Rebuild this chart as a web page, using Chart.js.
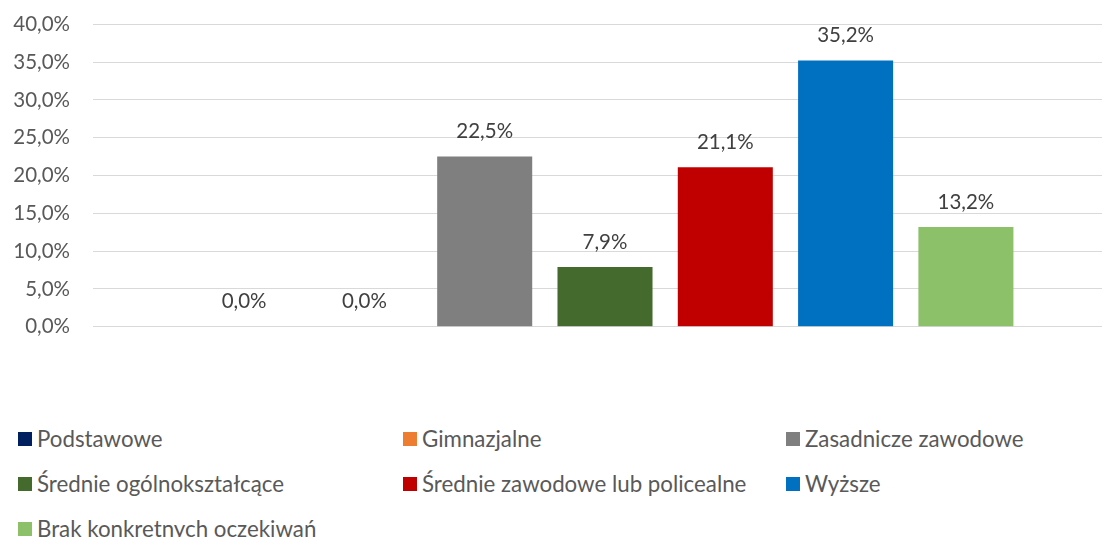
<!DOCTYPE html>
<html>
<head>
<meta charset="utf-8">
<script src="https://cdn.jsdelivr.net/npm/chart.js@4"></script>
<style>
  html, body { margin: 0; padding: 0; background: #fff; overflow: hidden; }
  body { width: 1102px; height: 537px; position: relative; font-family: Lato, "Open Sans", sans-serif; }
  #wrap { position: absolute; left: 0; top: -11px; width: 1120px; height: 373px; }
  #legend { position: absolute; left: 18px; top: 416px; display: grid;
    grid-template-columns: 385px 383px auto; grid-auto-rows: 45px; }
  .item { display: flex; align-items: center; font-size: 22.3px; color: #595959; white-space: nowrap; }
  .box { width: 14px; height: 14px; margin-right: 5px; flex: none; }
</style>
</head>
<body>
<div id="wrap"><canvas id="chart"></canvas></div>
<div id="legend"></div>
<script>
// categories (one series per education level)
const seriesNames = [
  'Podstawowe',
  'Gimnazjalne',
  'Zasadnicze zawodowe',
  'Średnie ogólnokształcące',
  'Średnie zawodowe lub policealne',
  'Wyższe',
  'Brak konkretnych oczekiwań'
];
const seriesValues = [0.0, 0.0, 22.5, 7.9, 21.1, 35.2, 13.2];
const seriesColors = ['#002060', '#ED7D31', '#7F7F7F', '#456A2D', '#C00000', '#0070C0', '#8CC169'];
const yTicks = [0, 5, 10, 15, 20, 25, 30, 35, 40];

const pct = v => v.toFixed(1).replace('.', ',') + '%';

// value labels above bars
const valueLabels = {
  id: 'valueLabels',
  afterDatasetsDraw(c) {
    const ctx = c.ctx;
    ctx.save();
    ctx.font = '20.5px Lato, "Open Sans", sans-serif';
    ctx.fillStyle = '#404040';
    ctx.textAlign = 'center';
    ctx.textBaseline = 'middle';
    c.data.datasets.forEach((ds, i) => {
      const bar = c.getDatasetMeta(i).data[0];
      ctx.fillText(pct(ds.data[0]), bar.x, bar.y - 25);
    });
    ctx.restore();
  }
};

const chart = new Chart(document.getElementById('chart'), {
  type: 'bar',
  data: {
    labels: [''],
    datasets: seriesNames.map((name, i) => ({
      label: name,
      data: [seriesValues[i]],
      backgroundColor: seriesColors[i],
      categoryPercentage: 0.8224,
      barPercentage: 0.79
    }))
  },
  options: {
    responsive: true,
    maintainAspectRatio: false,
    animation: false,
    layout: { padding: { top: 4, right: 3, bottom: 0, left: 0 } },
    scales: {
      x: { display: false },
      y: {
        min: 0, max: 40,
        afterBuildTicks: s => { s.ticks = yTicks.map(v => ({ value: v })); },
        afterFit: s => { s.width = 93; },
        border: { display: false },
        grid: { color: '#D9D9D9', lineWidth: 1, drawTicks: false },
        ticks: {
          padding: 23,
          color: '#595959',
          font: { family: 'Lato, "Open Sans", sans-serif', size: 20.5 },
          callback: v => pct(v)
        }
      }
    },
    plugins: { legend: { display: false }, tooltip: { enabled: false } }
  },
  plugins: [valueLabels]
});

// legend in three columns, like the original
const legend = document.getElementById('legend');
chart.data.datasets.forEach(ds => {
  const it = document.createElement('div');
  it.className = 'item';
  it.innerHTML = `<span class="box" style="background:${ds.backgroundColor}"></span>${ds.label}`;
  legend.appendChild(it);
});
</script>
</body>
</html>
